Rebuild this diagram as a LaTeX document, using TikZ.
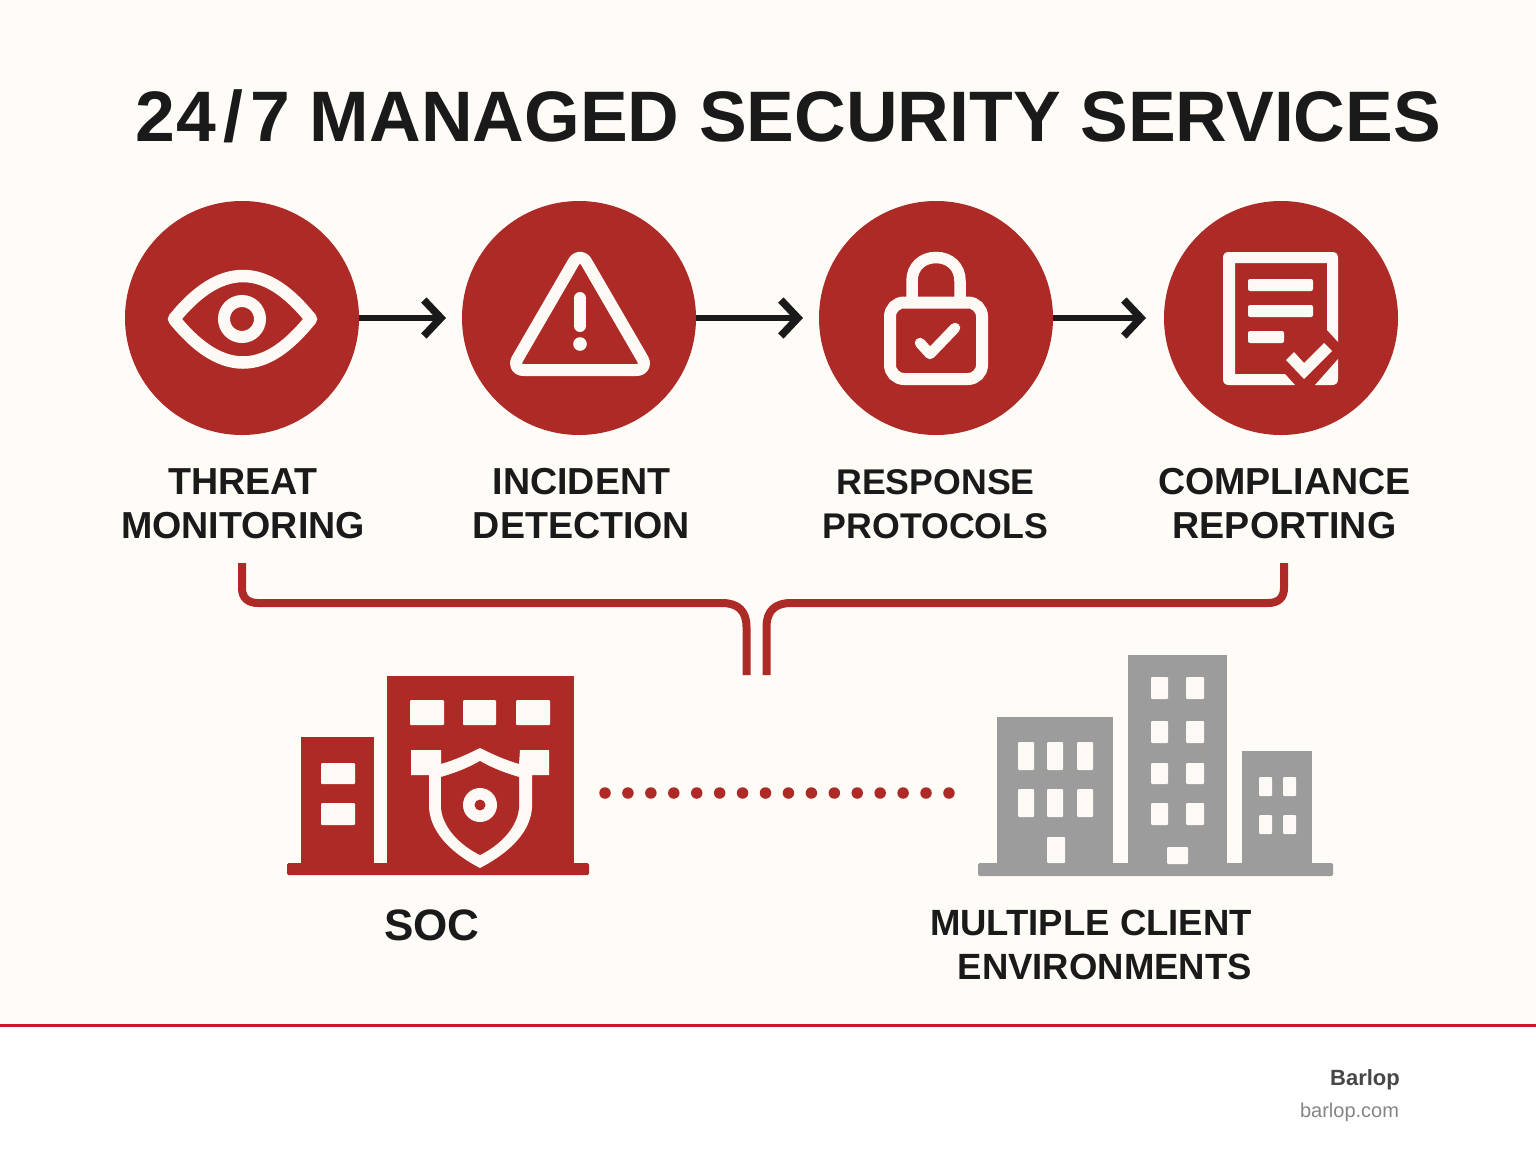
\documentclass[tikz,border=0pt]{standalone}
\usepackage{fontspec}
\setmainfont{Liberation Sans}
\usetikzlibrary{arrows.meta}
\definecolor{paper}{HTML}{FFFCF8}
\definecolor{brick}{HTML}{AD2A26}
\definecolor{ink}{HTML}{1A1A1A}
\definecolor{ice}{HTML}{FDFAF6}
\definecolor{slate}{HTML}{9C9C9C}
\definecolor{rulered}{HTML}{C8192B}
\tikzset{
  circ/.style={circle,fill=brick,draw=none,minimum size=234pt,inner sep=0pt,outer sep=0pt},
  flowarrow/.style={draw=ink,line width=6.5pt,-{Straight Barb[length=17pt,width=36pt,line width=7.5pt]}},
  lab/.style={font=\fontsize{37.6}{44}\selectfont\bfseries,text=ink,align=center,inner sep=0pt},
  titlelab/.style={font=\fontsize{71.5}{80}\selectfont\bfseries,text=ink,inner sep=0pt},
  bracket/.style={draw=brick,line width=8pt},
  iconline/.style={draw=ice,line cap=round,line join=round},
  win/.style={fill=ice,rounded corners=1pt},
}
\begin{document}
\begin{tikzpicture}[x=1pt,y=-1pt]
\useasboundingbox (0,0) rectangle (1536,1154);
\fill[paper] (0,0) rectangle (1536,1025);
\fill[white] (0,1025) rectangle (1536,1154);
\draw[rulered,line width=3pt] (0,1025) -- (1536,1025);

\node[titlelab] (title) at (788,116) {2\kern2pt 4\kern7pt/\kern7pt 7 MANAGED SECURITY SERVICES};

% circles
\node[circ] (c1) at (242,318) {};
\node[circ] (c2) at (579,318) {};
\node[circ] (c3) at (936,318) {};
\node[circ] (c4) at (1281,318) {};
\coordinate (t1) at (446,318);
\coordinate (t2) at (803,318);
\coordinate (t3) at (1146,318);
\draw[flowarrow] (c1) -- (t1);
\draw[flowarrow] (c2) -- (t2);
\draw[flowarrow] (c3) -- (t3);

% eye
\draw[iconline,line width=12.5pt] (174,319) .. controls (195,293) and (218,276) .. (243,276)
  .. controls (268,276) and (290,293) .. (311,319)
  .. controls (290,345) and (268,362.5) .. (243,362.5)
  .. controls (218,362.5) and (195,345) .. cycle;
\draw[draw=ice,line width=12pt] (242,319) circle[radius=18];

% warning
\draw[iconline,line width=12pt,rounded corners=13pt] (580,251) -- (511,370) -- (649,370) -- cycle;
\draw[iconline,line width=12pt] (580,298) -- (580,326);
\fill[ice] (580,344) circle[radius=6.8];

% lock
\draw[draw=ice,line width=11.5pt] (912,297) -- (912,281) .. controls (912,267) and (922,257.5) .. (936,257.5)
  .. controls (950,257.5) and (960,267) .. (960,281) -- (960,297);
\draw[draw=ice,line width=12pt,rounded corners=14pt] (890,302.5) rectangle (982,379);
\draw[iconline,line width=10.5pt] (920,343) -- (930,354) -- (955,328);

% document
\fill[ice] (1229,252) -- (1332,252) .. controls (1336,252) and (1338,254) .. (1338,258) -- (1338,342) -- (1327,330) -- (1327,263) -- (1235,263) -- (1235,374) -- (1285,374) -- (1295,385) -- (1229,385) .. controls (1225,385) and (1223,383) .. (1223,379) -- (1223,258) .. controls (1223,254) and (1225,252) .. (1229,252) -- cycle;
\fill[ice] (1338,359) -- (1338,379) .. controls (1338,383) and (1336,385) .. (1332,385) -- (1315,385) -- cycle;
\fill[ice,rounded corners=2pt] (1248,279) rectangle (1313,291);
\fill[ice,rounded corners=2pt] (1248,305) rectangle (1313,317);
\fill[ice,rounded corners=2pt] (1248,331) rectangle (1284,343);
\fill[ice] (1286,360) -- (1294,352) -- (1304,363) -- (1324,343) -- (1332,351) -- (1304,379) -- cycle;

% labels
\node[lab] (l1) at (243,504) {THREAT\\MONITORING};
\node[lab] (l2) at (581.5,504) {INCIDENT\\DETECTION};
\node[lab,font=\fontsize{35.7}{44}\selectfont\bfseries] (l3) at (935.5,504) {RESPONSE\\PROTOCOLS};
\node[lab] (l4) at (1284.5,504) {COMPLIANCE\\REPORTING};

% brackets
\coordinate (bl) at (242,563);
\coordinate (blend) at (746.5,675);
\coordinate (br) at (1284,563);
\coordinate (brend) at (766.5,675);
\draw[bracket] (bl) -- (242,588) .. controls (242,598) and (248,603) .. (258,603) -- (722,603)
  .. controls (738,603) and (746.5,611) .. (746.5,627) -- (blend);
\draw[bracket] (br) -- (1284,588) .. controls (1284,598) and (1278,603) .. (1268,603) -- (791,603)
  .. controls (775,603) and (766.5,611) .. (766.5,627) -- (brend);

% SOC building
\fill[brick,rounded corners=1.5pt] (287,863) rectangle (589,875);
\fill[brick] (301,870) -- (301,737) -- (374,737) -- (374,870) -- cycle;
\fill[brick] (387,870) -- (387,676) -- (574,676) -- (574,870) -- cycle;
\fill[win] (410,700) rectangle (444,725);
\fill[win] (463,700) rectangle (496,725);
\fill[win] (516,700) rectangle (550,725);
\fill[win] (321,763) rectangle (355,784);
\fill[win] (321,803) rectangle (355,825);
\fill[ice] (411,750) -- (441,750) -- (441,764) .. controls (455,760) and (468,754) .. (480,748)
  .. controls (492,754) and (505,760) .. (519,764) -- (520,750) -- (549,750) -- (549,775) -- (532,775) -- (532,808)
  .. controls (530,835) and (505,855) .. (480,868) .. controls (455,855) and (431,835) .. (429,808)
  -- (429,775) -- (411,775) -- cycle;
\fill[brick] (480,761) .. controls (468,768) and (455,773) .. (441,777) -- (441,808)
  .. controls (443,828) and (460,845) .. (480,855) .. controls (500,845) and (517,828) .. (519,808)
  -- (519,777) .. controls (505,773) and (492,768) .. (480,761) -- cycle;
\fill[ice] (480,805) circle[radius=17];
\fill[brick] (480,805) circle[radius=5.5];

% dots
\coordinate (da) at (605,793);
\coordinate (db) at (949,793);
\draw[brick,line width=11.5pt,line cap=round,dash pattern=on 0pt off 22.93pt] (da) -- (db);

% client buildings
\fill[slate,rounded corners=1.5pt] (978,863) rectangle (1333,876);
\fill[slate] (997,717) rectangle (1113,866);
\fill[slate] (1128,655) rectangle (1227,866);
\fill[slate] (1242,751) rectangle (1312,866);
\foreach \xa/\xb in {1018/1034,1047/1063,1077/1093}
  \foreach \ya/\yb in {742/770,789/817}
    \fill[win] (\xa,\ya) rectangle (\xb,\yb);
\fill[win] (1047,837) rectangle (1065,863);
\foreach \xa/\xb in {1151/1168,1186/1204}
  \foreach \ya/\yb in {677/699,721/743,763/784,803/825}
    \fill[win] (\xa,\ya) rectangle (\xb,\yb);
\fill[win] (1167,847) rectangle (1188,864);
\foreach \xa/\xb in {1259/1272,1283/1296}
  \foreach \ya/\yb in {777/796,815/834}
    \fill[win] (\xa,\ya) rectangle (\xb,\yb);

\node[lab,font=\fontsize{44}{50}\selectfont\bfseries] (soc) at (432,925) {SOC};
\node[lab,font=\fontsize{36.5}{44}\selectfont\bfseries,align=right,anchor=east] (clients) at (1252,945) {MULTIPLE CLIENT\\ENVIRONMENTS};

% footer
\node[font=\fontsize{22}{26}\selectfont\bfseries,text=black!72,inner sep=0pt] (brand) at (1365,1080) {Barlop};
\node[font=\fontsize{20}{24}\selectfont,text=black!48,inner sep=0pt] (site) at (1349.5,1112) {barlop.com};
\end{tikzpicture}
\end{document}
